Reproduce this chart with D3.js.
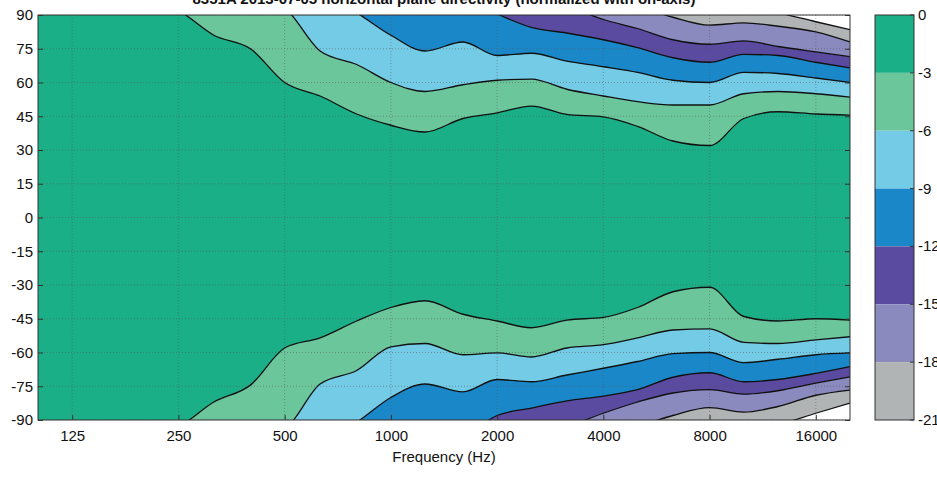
<!DOCTYPE html>
<html>
<head>
<meta charset="utf-8">
<script src="https://cdn.jsdelivr.net/npm/d3@7"></script>
<style>
body { margin: 0; background: #fff; }
text { font-family: "Liberation Sans", Arial, sans-serif; }
</style>
</head>
<body>
<svg id="chart" width="937" height="479"></svg>
<script>
"use strict"

// frequency grid (Hz)
var freqs = [100,125,160,200,250,315,400,500,630,800,1000,1250,1600,2000,2500,3150,4000,5000,6300,8000,10000,12500,16000,20000];

// upper contours (angle, deg) for each level
var top3  = [100,100,100,97,92,81,75,60,54,46,41,38,44,46.5,49.5,45.8,44.7,40.5,34,32,44,47,46,45.5];
var top6  = [110,110,110,110,105,100,98,93,74,68,60,56,59,61,61.5,57,54,51.5,50,50,55,56,55,53.5];
var top9  = [110,110,110,110,110,110,105,100,100,91,81,74,78,72,73,69.5,67,64.5,61,60,64.5,64,62,60];
var top12 = [110,110,110,110,110,110,110,110,110,105,100,100,98,90.5,84.5,82,79,75.5,71,69,72.5,72,69,66.5];
var top15 = [110,110,110,110,110,110,110,110,110,110,110,105,100,100,98,94,88,84,79,77,78.5,76,73.6,71.5];
var top18 = [110,110,110,110,110,110,110,110,110,110,110,110,110,105,100,100,98,94,89,85.5,86.5,85,82.5,78];
var top21 = [110,110,110,110,110,110,110,110,110,110,110,110,110,110,110,105,100,100,98,96,94,91,87,83.5];

// lower contours
var bot3  = [-100,-100,-100,-97,-93,-82,-74.5,-58,-53.5,-46,-40,-37,-43,-46,-49,-45.6,-44.4,-40,-33,-31,-44,-46,-45,-45.6];
var bot6  = [-110,-110,-110,-110,-105,-100,-98,-94,-74,-68,-57.5,-56,-61,-60.2,-62,-58,-56.5,-53.5,-50,-49.5,-55.5,-56,-54.4,-53];
var bot9  = [-110,-110,-110,-110,-110,-110,-105,-100,-100,-91,-80,-74,-77.5,-72,-73,-70,-67,-64,-60.5,-60,-64.5,-63,-61,-60.2];
var bot12 = [-110,-110,-110,-110,-110,-110,-110,-110,-110,-105,-100,-100,-97,-88,-84.7,-81.5,-79.4,-76.5,-71,-69,-73,-72,-69.3,-66.3];
var bot15 = [-110,-110,-110,-110,-110,-110,-110,-110,-110,-110,-110,-105,-100,-100,-98,-93,-87,-82,-78,-76.5,-78.5,-77,-73.6,-70.8];
var bot18 = [-110,-110,-110,-110,-110,-110,-110,-110,-110,-110,-110,-110,-110,-105,-100,-100,-98,-93,-88,-84.5,-86.5,-84,-79,-76.7];
var bot21 = [-110,-110,-110,-110,-110,-110,-110,-110,-110,-110,-110,-110,-110,-110,-110,-105,-100,-100,-98,-96,-94,-92,-87,-82.5];

var levels = [0,-3,-6,-9,-12,-15,-18,-21];
var bandColors = ["#1aaf86","#6cc69c","#74cbe6","#1a87c8","#5a4aa0","#8a8abf","#b0b4b4"];
var xTicks = [125,250,500,1000,2000,4000,8000,16000];
var yTicks = [90,75,60,45,30,15,0,-15,-30,-45,-60,-75,-90];
var title = "8351A 2013-07-05 horizontal plane directivity (normalized with on-axis)";

var topContours = [top3,top6,top9,top12,top15,top18,top21];
var botContours = [bot3,bot6,bot9,bot12,bot15,bot18,bot21];

var L = 38, R = 850, T = 15, B = 420;
var svg = d3.select("#chart");
var x = d3.scaleLog().domain([100,20000]).range([L,R]);
var y = d3.scaleLinear().domain([-90,90]).range([B,T]);
var plain = function(d) { return String(d); };

svg.append("clipPath").attr("id","clip")
	.append("rect").attr("x",L).attr("y",T).attr("width",R-L).attr("height",B-T);

var g = svg.append("g").attr("clip-path","url(#clip)");
g.append("rect").attr("x",L).attr("y",T).attr("width",R-L).attr("height",B-T)
	.attr("fill",bandColors[0]);

var curve = d3.curveMonotoneX;
function series(arr) { return freqs.map(function(f,i){ return [f,arr[i]]; }); }

topContours.forEach(function(c,k){
	var fill = k + 1 < bandColors.length ? bandColors[k+1] : "#ffffff";
	g.append("path").datum(series(c))
		.attr("fill",fill)
		.attr("d",d3.area().curve(curve).x(function(d){return x(d[0]);})
			.y0(function(){return y(120);}).y1(function(d){return y(d[1]);}));
});
botContours.forEach(function(c,k){
	var fill = k + 1 < bandColors.length ? bandColors[k+1] : "#ffffff";
	g.append("path").datum(series(c))
		.attr("fill",fill)
		.attr("d",d3.area().curve(curve).x(function(d){return x(d[0]);})
			.y0(function(){return y(-120);}).y1(function(d){return y(d[1]);}));
});

// grid
xTicks.forEach(function(t){
	g.append("line").attr("x1",x(t)).attr("x2",x(t)).attr("y1",T).attr("y2",B)
		.attr("stroke","#555").attr("stroke-opacity",0.5).attr("stroke-dasharray","1,2");
});
yTicks.forEach(function(t){
	g.append("line").attr("x1",L).attr("x2",R).attr("y1",y(t)).attr("y2",y(t))
		.attr("stroke","#555").attr("stroke-opacity",0.5).attr("stroke-dasharray","1,2");
});

var line = d3.line().curve(curve).x(function(d){return x(d[0]);}).y(function(d){return y(d[1]);});
topContours.concat(botContours).forEach(function(c){
	g.append("path").datum(series(c)).attr("fill","none")
		.attr("stroke","#111").attr("stroke-width",1.3).attr("d",line);
});

// frame + axes
svg.append("rect").attr("x",L).attr("y",T).attr("width",R-L).attr("height",B-T)
	.attr("fill","none").attr("stroke","#333").attr("stroke-width",1);

var xa = svg.append("g").attr("transform","translate(0,"+B+")")
	.call(d3.axisBottom(x).tickValues(xTicks).tickFormat(plain).tickSizeInner(-5).tickSizeOuter(0).tickPadding(10));
var ya = svg.append("g").attr("transform","translate("+L+",0)")
	.call(d3.axisLeft(y).tickValues(yTicks).tickFormat(plain).tickSizeInner(-5).tickSizeOuter(0).tickPadding(5));
[xa,ya].forEach(function(a){
	a.select(".domain").remove();
	a.selectAll("line").attr("stroke","#333");
	a.selectAll("text").attr("font-size",15).attr("fill","#111");
});
svg.append("g").attr("transform","translate("+R+",0)")
	.call(d3.axisRight(y).tickValues(yTicks).tickSizeInner(-5).tickSizeOuter(0).tickFormat(""))
	.call(function(a){ a.select(".domain").remove(); a.selectAll("line").attr("stroke","#333"); });

svg.append("text").attr("x",(L+R)/2).attr("y",462).attr("text-anchor","middle")
	.attr("font-size",15).attr("fill","#111").text("Frequency (Hz)");
svg.append("text").attr("x",(L+R)/2).attr("y",4).attr("text-anchor","middle")
	.attr("font-size",15).attr("font-weight","bold").attr("fill","#111").text(title);

// colorbar
var cy = d3.scaleLinear().domain([0,-21]).range([T,B]);
var cb = svg.append("g");
bandColors.forEach(function(c,i){
	cb.append("rect").attr("x",875).attr("y",cy(levels[i])).attr("width",39)
		.attr("height",cy(levels[i+1])-cy(levels[i])).attr("fill",c);
});
cb.append("rect").attr("x",875).attr("y",T).attr("width",39).attr("height",B-T)
	.attr("fill","none").attr("stroke","#333");
levels.forEach(function(l){
	cb.append("line").attr("x1",914).attr("x2",910).attr("y1",cy(l)).attr("y2",cy(l)).attr("stroke","#333");
	cb.append("text").attr("x",918).attr("y",cy(l)+5).attr("font-size",15).attr("fill","#111").text(String(l));
});
</script>
</body>
</html>
